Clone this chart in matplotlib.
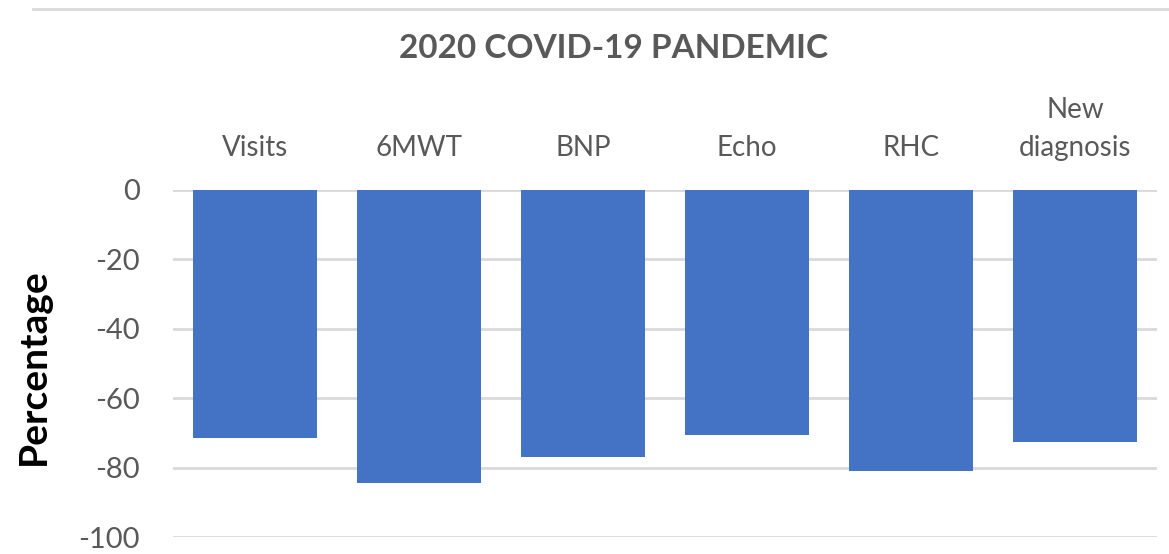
import matplotlib
matplotlib.use("Agg")
import matplotlib.pyplot as plt
from matplotlib.lines import Line2D

categories = ["Visits", "6MWT", "BNP", "Echo", "RHC", "New\ndiagnosis"]
values = [-71.5, -84.5, -77, -70.5, -81, -72.5]
yticks = [0, -20, -40, -60, -80, -100]

plt.rcParams['font.family'] = ['Lato', 'DejaVu Sans']

fig = plt.figure(figsize=(11.69, 5.54), dpi=100)
ax = fig.add_axes([173/1169, 1-537/554, (1157-173)/1169, (537-190)/554])

x = list(range(len(categories)))
ax.bar(x, values, width=0.76, color="#4472C4", zorder=3)
ax.set_xlim(-0.5, len(categories)-0.5)
ax.set_ylim(-100, 0)
ax.set_yticks(yticks)
ax.set_yticklabels([str(t) for t in yticks], fontsize=21, color="#595959")
ax.yaxis.grid(True, color="#d9d9d9", linewidth=2, zorder=0)
ax.tick_params(axis='y', length=0, pad=24)
ax.xaxis.tick_top()
ax.set_xticks(x)
ax.set_xticklabels(categories, fontsize=20, color="#595959", linespacing=1.55)
ax.tick_params(axis='x', length=0, pad=21)
for s in ax.spines.values():
    s.set_visible(False)

fig.text(33/1169, 1-367/554, "Percentage", rotation=90, ha="center", va="center",
         fontsize=28, fontweight="bold", color="black")
fig.text(614/1169, 1-49/554, "2020 COVID-19 PANDEMIC", ha="center", va="center",
         fontsize=24, fontweight="bold", color="#595959")

fig.add_artist(Line2D([33/1169, 1.0], [1-9/554, 1-9/554], color="#d9d9d9", linewidth=2,
                      transform=fig.transFigure))

fig.savefig("out.png", dpi=100)
